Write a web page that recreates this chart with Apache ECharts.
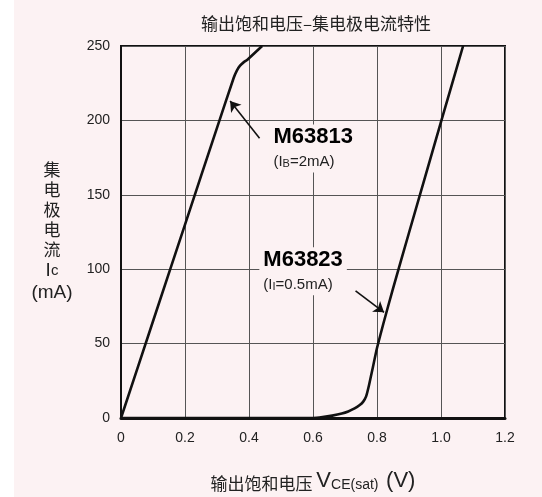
<!DOCTYPE html>
<html>
<head>
<meta charset="utf-8">
<script src="https://cdn.jsdelivr.net/npm/echarts@6/dist/echarts.min.js"></script>
<style>
  html, body { margin: 0; padding: 0; }
  body { width: 542px; height: 497px; background: linear-gradient(to right, #ffffff 0, #ffffff 14px, #fcf2f3 14px, #fcf2f3 100%); }
  #chart { width: 542px; height: 497px; }
</style>
</head>
<body>
<div id="chart"></div>
<script>
// ---- data ----
const xTickLabels = ['0', '0.2', '0.4', '0.6', '0.8', '1.0', '1.2'];
const yTickLabels = ['0', '50', '100', '150', '200', '250'];

// M63813 (IB = 2mA)
const m63813V = [0, 0.1, 0.2, 0.3, 0.352, 0.362, 0.372, 0.383, 0.395, 0.441];
const m63813I = [0, 65, 130, 195, 228.5, 233.5, 236.8, 239, 240.8, 250];

// M63823 (II = 0.5mA)
const m63823V = [0, 0.3, 0.6, 0.63, 0.66, 0.69, 0.71, 0.73, 0.745, 0.757, 0.766, 0.775, 0.787, 0.8, 0.82, 0.85, 0.9, 1.0, 1.069];
const m63823I = [0, 0, 0, 0.6, 1.6, 3.0, 4.4, 6.4, 8.5, 11, 14.5, 22, 34, 47, 63.5, 87, 124.5, 199, 250];

// annotation anchors (data coords: top-left of label box) and arrows [tail, head]
const labelNames = ['M63813', 'M63823'];
const labelConds = [['I', 'B', '=2mA'], ['I', 'I', '=0.5mA']];
const labelAnchors = [[0.4637, 197.3], [0.4323, 114.7]];
const arrowTails = [[0.433, 188], [0.733, 85.5]];
const arrowHeads = [[0.341, 213], [0.822, 71]];

// ---- chart ----
const zip = (a, b) => a.map((v, i) => [v, b[i]]);
const FONT = "'Liberation Sans', Arial, Helvetica, 'Noto Sans CJK SC', sans-serif";
const CJK = "'Noto Sans CJK SC', 'Liberation Sans', sans-serif";
const PINK = '#fcf2f3';

const chart = echarts.init(document.getElementById('chart'), null, { renderer: 'canvas' });

const option = {
  backgroundColor: 'transparent',
  animation: false,
  textStyle: { fontFamily: FONT },
  title: {
    text: '输出饱和电压–集电极电流特性',
    left: 311,
    top: 10,
    textAlign: 'center',
    textStyle: { fontFamily: CJK, fontSize: 17, fontWeight: 'normal', color: '#222' }
  },
  grid: {
    left: 121, top: 46, right: 37, bottom: 74,
    show: true, borderColor: '#111', borderWidth: 2, backgroundColor: 'transparent'
  },
  xAxis: {
    type: 'value', min: 0, max: 1.2, interval: 0.2,
    axisLine: { show: true, lineStyle: { color: '#111', width: 3 } },
    axisTick: { show: false },
    axisLabel: {
      color: '#222', fontSize: 14, margin: 13, fontFamily: FONT,
      formatter: (v) => xTickLabels[Math.round(v / 0.2)]
    },
    splitLine: { show: true, lineStyle: { color: '#555', width: 1 } },
    name: '{c|输出饱和电压 }{v|V}{s|CE(sat)}{c|  }{v|(V)}',
    nameLocation: 'middle',
    nameGap: 50,
    nameTextStyle: {
      rich: {
        c: { fontFamily: CJK, fontSize: 17, color: '#222', lineHeight: 24, verticalAlign: 'bottom' },
        v: { fontFamily: FONT, fontSize: 22, color: '#222', lineHeight: 24, verticalAlign: 'bottom' },
        s: { fontFamily: FONT, fontSize: 14, color: '#222', lineHeight: 24, verticalAlign: 'bottom' }
      }
    }
  },
  yAxis: {
    type: 'value', min: 0, max: 250, interval: 50,
    axisLine: { show: true, lineStyle: { color: '#111', width: 2 } },
    axisTick: { show: false },
    axisLabel: {
      color: '#222', fontSize: 14, margin: 11, fontFamily: FONT,
      formatter: (v) => yTickLabels[Math.round(v / 50)]
    },
    splitLine: { show: true, lineStyle: { color: '#555', width: 1 } },
    name: '集\n电\n极\n电\n流\n{a|I}{b|c}\n{a|(mA)}',
    nameLocation: 'middle',
    nameRotate: 0,
    nameGap: 69,
    nameTextStyle: {
      fontFamily: CJK, fontSize: 17, lineHeight: 20, color: '#222',
      align: 'center', verticalAlign: 'middle',
      rich: {
        a: { fontFamily: FONT, fontSize: 19, lineHeight: 22, color: '#222' },
        b: { fontFamily: FONT, fontSize: 15, lineHeight: 22, color: '#222' }
      }
    }
  },
  series: [
    {
      name: 'M63813', type: 'line', data: zip(m63813V, m63813I),
      showSymbol: false, smooth: 0.15,
      lineStyle: { color: '#111', width: 2.6, join: 'round' }, z: 5
    },
    {
      name: 'M63823', type: 'line', data: zip(m63823V, m63823I),
      showSymbol: false, smooth: 0.15,
      lineStyle: { color: '#111', width: 2.6, join: 'round' }, z: 5
    },
    {
      name: 'arrows', type: 'line', data: [], z: 6,
      markLine: {
        silent: true, animation: false,
        symbol: ['none', 'arrow'], symbolSize: 10,
        label: { show: false },
        itemStyle: { color: '#111' },
        lineStyle: { color: '#111', width: 1.6, type: 'solid', opacity: 1 },
        data: arrowTails.map((t, i) => [{ coord: t }, { coord: arrowHeads[i] }])
      }
    },
    {
      name: 'labels', type: 'scatter', z: 7,
      symbolSize: 0, itemStyle: { color: '#111', opacity: 1 },
      data: labelAnchors.map((p, i) => ({ value: p, idx: i })),
      label: {
        show: true, position: [0, 0], align: 'left', verticalAlign: 'top',
        backgroundColor: PINK, padding: [1, 4, 3, 4],
        color: '#111', opacity: 1,
        formatter: (p) => {
          const c = labelConds[p.data.idx];
          return '{m|' + labelNames[p.data.idx] + '}\n{p|(' + c[0] + '}{s|' + c[1] + '}{p|' + c[2] + ')}';
        },
        rich: {
          m: { fontFamily: FONT, fontSize: 22, fontWeight: 'bold', color: '#000', lineHeight: 24 },
          p: { fontFamily: FONT, fontSize: 15, color: '#222', lineHeight: 20, verticalAlign: 'bottom' },
          s: { fontFamily: FONT, fontSize: 11, color: '#222', lineHeight: 18, verticalAlign: 'bottom' }
        }
      }
    }
  ]
};

chart.setOption(option);
</script>
</body>
</html>
